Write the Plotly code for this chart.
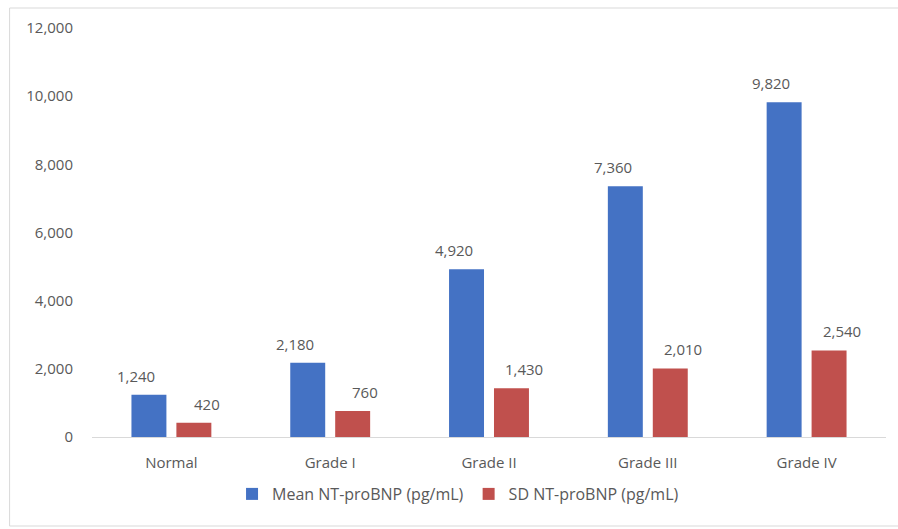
import plotly.graph_objects as go

categories = ["Normal", "Grade I", "Grade II", "Grade III", "Grade IV"]
mean_vals = [1240, 2180, 4920, 7360, 9820]
sd_vals = [420, 760, 1430, 2010, 2540]
series_names = ["Mean NT-proBNP (pg/mL)", "SD NT-proBNP (pg/mL)"]
y_ticks = [0, 2000, 4000, 6000, 8000, 10000, 12000]

BLUE = "#4472C4"
RED = "#C0504D"
TEXT = "#595959"
FONT = "'Open Sans', Lato, sans-serif"
FS = 15

fig = go.Figure()
fig.add_trace(go.Bar(x=categories, y=mean_vals, name=series_names[0],
                     marker=dict(color=BLUE, line=dict(width=0))))
fig.add_trace(go.Bar(x=categories, y=sd_vals, name=series_names[1],
                     marker=dict(color=RED, line=dict(width=0))))

# value labels above each bar
annotations = []
for vals, off in ((mean_vals, -0.222), (sd_vals, 0.222)):
    for i, v in enumerate(vals):
        annotations.append(dict(
            x=i + off, y=v, xref="x", yref="y", text=f"{v:,}",
            showarrow=False, yanchor="bottom", yshift=7,
            font=dict(family=FONT, size=FS, color=TEXT)))

# plot-area geometry in pixels, used for the outer frame and legend
L, R, T, B = 91.5, 886.5, 28, 437
W, H = R - L, B - T
def px(x):
    return (x - L) / W
def py(y):
    return (B - y) / H

fig.update_layout(
    width=898, height=529,
    margin=dict(l=L, r=898 - R, t=T, b=529 - B),
    paper_bgcolor="white", plot_bgcolor="white",
    barmode="group", bargap=0.434, bargroupgap=0.222,
    font=dict(family=FONT, size=FS, color=TEXT),
    showlegend=True,
    legend=dict(orientation="h", x=px(458), y=py(494), xanchor="center",
                yanchor="middle", font=dict(family=FONT, size=16, color=TEXT),
                itemwidth=30, traceorder="normal"),
    xaxis=dict(type="category", showgrid=False, showline=True,
               linecolor="#D9D9D9", linewidth=1, ticks="",
               ticklabelstandoff=12, tickfont=dict(size=FS, color=TEXT),
               range=[-0.5, 4.5]),
    yaxis=dict(range=[0, 12000], tickvals=y_ticks, tickformat=",",
               showgrid=False, zeroline=False, showline=False, ticks="",
               ticklabelstandoff=18, tickfont=dict(size=FS, color=TEXT)),
    annotations=annotations,
    shapes=[dict(type="rect", xref="paper", yref="paper",
                 x0=px(9), x1=px(900), y0=py(526), y1=py(8),
                 line=dict(color="#D9D9D9", width=1), layer="below")],
)

fig.write_html("out.html")
